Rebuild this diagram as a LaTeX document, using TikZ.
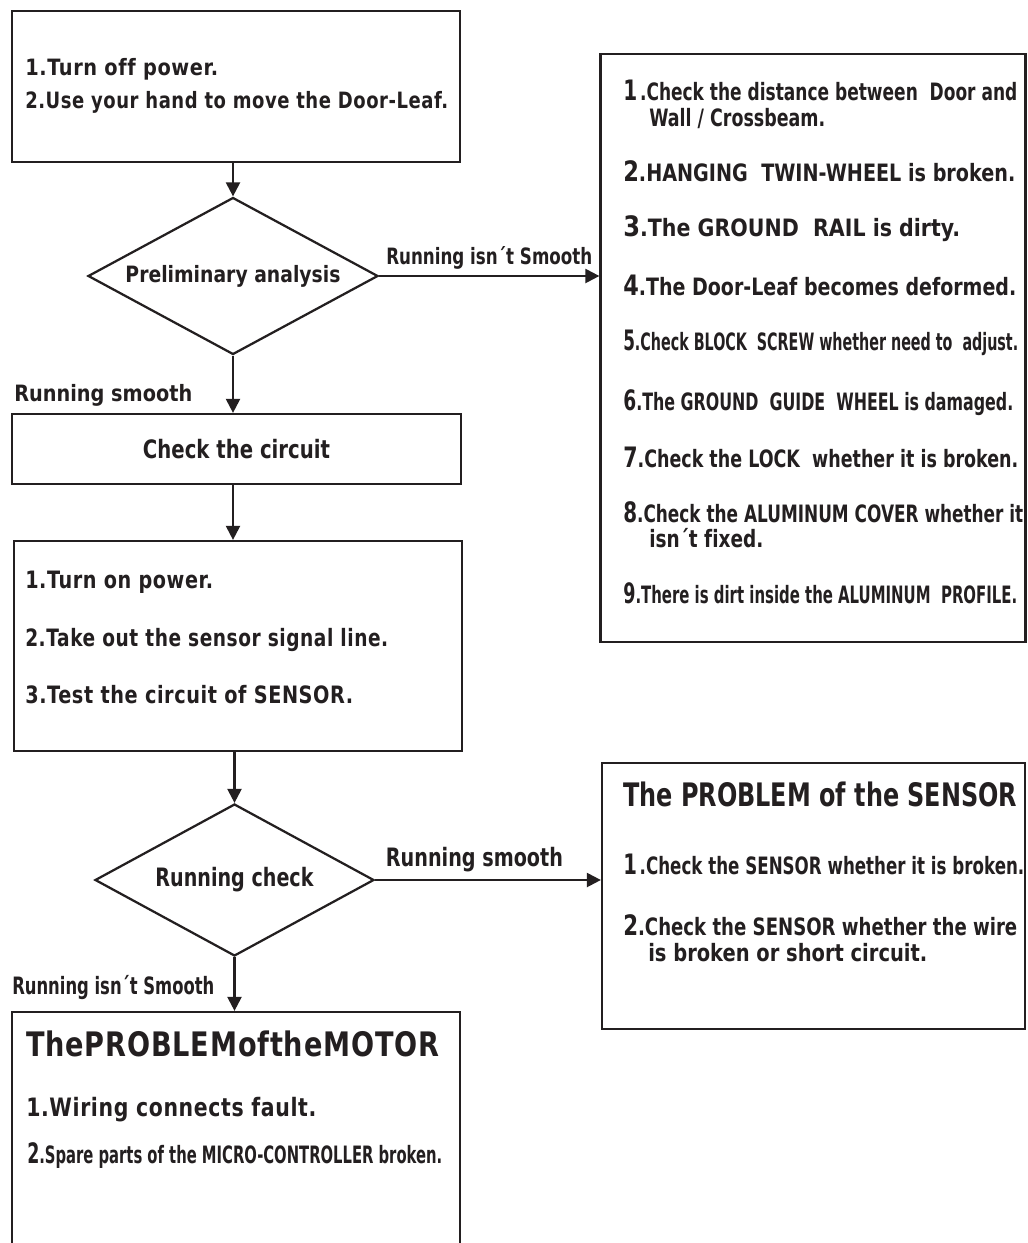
\documentclass[tikz,border=0pt]{standalone}
\usepackage{fontspec}
\usepackage{graphicx}
\usepackage{tikz}
\usetikzlibrary{arrows.meta,shapes.geometric}
\setmainfont{DejaVu Sans}[Ligatures=NoCommon]
\newfontfamily\spacedfont[LetterSpace=3,Ligatures=NoCommon]{DejaVu Sans}
\definecolor{ink}{HTML}{231F20}
\newlength{\px}
\setlength{\px}{0.025cm}
\newcommand{\fitline}[2]{\resizebox{#1\px}{\height}{#2}}
\newcommand{\fsize}[1]{\fontsize{#1}{#1}\selectfont}
\newcommand{\bignum}[1]{{\fsize{20}#1}}
\tikzset{
  panel/.style={draw=ink, line width=1.6pt, fill=white, inner sep=0pt},
  decision/.style={draw=ink, line width=1.6pt, diamond, aspect=1.85, fill=white,
               inner sep=0pt, font=\bfseries, text=ink},
  flow/.style={-{Triangle[length=10pt,width=10pt]}, line width=1.6pt, ink},
  lbl/.style={font=\bfseries, text=ink, inner sep=0pt},
  item/.style={lbl, anchor=mid west, font=\bfseries\fsize{17}},
  wideitem/.style={item, font=\bfseries\spacedfont\fsize{17}},
  heading/.style={item, font=\bfseries\fsize{23}},
}

\begin{document}
\begin{tikzpicture}[x=0.025cm, y=-0.025cm]

  \useasboundingbox (0,0) rectangle (1027,1243);
  \clip (0,0) rectangle (1027,1243);
  \fill[white] (0,0) rectangle (1027,1243);

  % left column
  \node[panel, minimum width=448\px, minimum height=151\px] (setup) at (236,86.5) {};
  \node[decision, minimum width=290\px, minimum height=157\px] (prelim) at (233,276) {\fsize{16}\fitline{215}{Preliminary analysis}};
  \node[panel, minimum width=449\px, minimum height=70\px, font=\bfseries\fsize{18}, text=ink] (circuit) at (236.5,449) {\fitline{187}{Check the circuit}};
  \node[panel, minimum width=448\px, minimum height=210\px] (sensortest) at (238,646) {};
  \node[decision, minimum width=279\px, minimum height=152\px] (runcheck) at (234.5,880) {\fsize{18}\fitline{158}{Running check}};
  \node[panel, minimum width=448\px, minimum height=300\px] (motor) at (236,1162) {};

  % right column
  \node[panel, minimum width=425\px, minimum height=588\px] (causes) at (813,348) {};
  \node[panel, minimum width=423\px, minimum height=266\px] (sensor) at (813.5,896) {};

  % texts
  \node[wideitem, font=\bfseries\spacedfont\fsize{16}] (a1) at (25,72) {\fitline{193}{1.Turn off power.}};
  \node[wideitem, font=\bfseries\spacedfont\fsize{16}] (a2) at (25,105) {\fitline{423}{2.Use your hand to move the Door-Leaf.}};

  \node[wideitem] (t1) at (25,585) {\fitline{188}{1.Turn on power.}};
  \node[wideitem] (t2) at (25,643) {\fitline{363}{2.Take out the sensor signal line.}};
  \node[wideitem] (t3) at (25,700) {\fitline{328}{3.Test the circuit of SENSOR.}};

  \node[item] (c1a) at (623,97) {\fitline{394}{\bignum{1}\,.Check the distance between~ Door and}};
  \node[item] (c1b) at (649,123) {\fitline{176}{Wall / Crossbeam.}};
  \node[item] (c2) at (623,178) {\fitline{392}{\bignum{2}.HANGING~ TWIN-WHEEL is broken.}};
  \node[item] (c3) at (623,233) {\fitline{337}{\bignum{3}.The GROUND~ RAIL is dirty.}};
  \node[item] (c4) at (623,292) {\fitline{393}{\bignum{4}.The Door-Leaf becomes deformed.}};
  \node[item] (c5) at (623,347) {\fitline{395}{\bignum{5}.Check BLOCK~ SCREW whether need to~ adjust.}};
  \node[item] (c6) at (623,407) {\fitline{390}{\bignum{6}.The GROUND~ GUIDE~ WHEEL is damaged.}};
  \node[item] (c7) at (623,464) {\fitline{395}{\bignum{7}.Check the LOCK~ whether it is broken.}};
  \node[item] (c8a) at (623,519) {\fitline{400}{\bignum{8}.Check the ALUMINUM COVER whether it}};
  \node[item] (c8b) at (649,544) {\fitline{114}{isn´t fixed.}};
  \node[item] (c9) at (623,600) {\fitline{394}{\bignum{9}.There is dirt inside the ALUMINUM~ PROFILE.}};

  \node[heading] (s0) at (623,803) {\fitline{394}{The PROBLEM of the SENSOR}};
  \node[item] (s1) at (623,871) {\fitline{401}{\bignum{1}\,.Check the SENSOR whether it is broken.}};
  \node[item] (s2a) at (623,932) {\fitline{394}{\bignum{2}.Check the SENSOR whether the wire}};
  \node[item] (s2b) at (648,958) {\fitline{279}{is broken or short circuit.}};

  \node[heading, font=\bfseries\spacedfont\fsize{24}] (m0) at (26,1053) {\fitline{413}{ThePROBLEMoftheMOTOR}};
  \node[wideitem, font=\bfseries\spacedfont\fsize{18}] (m1) at (26,1113) {\fitline{290}{1.Wiring connects fault.}};
  \node[item] (m2) at (27,1160) {\fitline{415}{\bignum{2}.Spare parts of the MICRO-CONTROLLER broken.}};

  \node[item, font=\bfseries\fsize{16}] (smoothA) at (14,398) {\fitline{178}{Running smooth}};
  \node[item, font=\bfseries\fsize{17}] (roughB) at (12,991) {\fitline{202}{Running isn´t Smooth}};

  % connectors
  \draw[flow] (setup.south -| prelim.north) -- (prelim.north);
  \draw[flow] (prelim.south) -- (prelim.south |- circuit.north);
  \draw[flow] (circuit.south -| prelim.south) -- (prelim.south |- sensortest.north);
  \draw[flow] (sensortest.south -| runcheck.north) -- (runcheck.north);
  \draw[flow] (runcheck.south) -- (runcheck.south |- motor.north);
  \draw[flow] (prelim.east) -- (prelim.east -| causes.west)
    node[midway, above=4pt, lbl, font=\bfseries\fsize{16}] {\fitline{206}{Running isn´t Smooth}};
  \draw[flow] (runcheck.east) -- (runcheck.east -| sensor.west)
    node[pos=0.44, above=5pt, lbl, font=\bfseries\fsize{18}] {\fitline{177}{Running smooth}};

\end{tikzpicture}
\end{document}
